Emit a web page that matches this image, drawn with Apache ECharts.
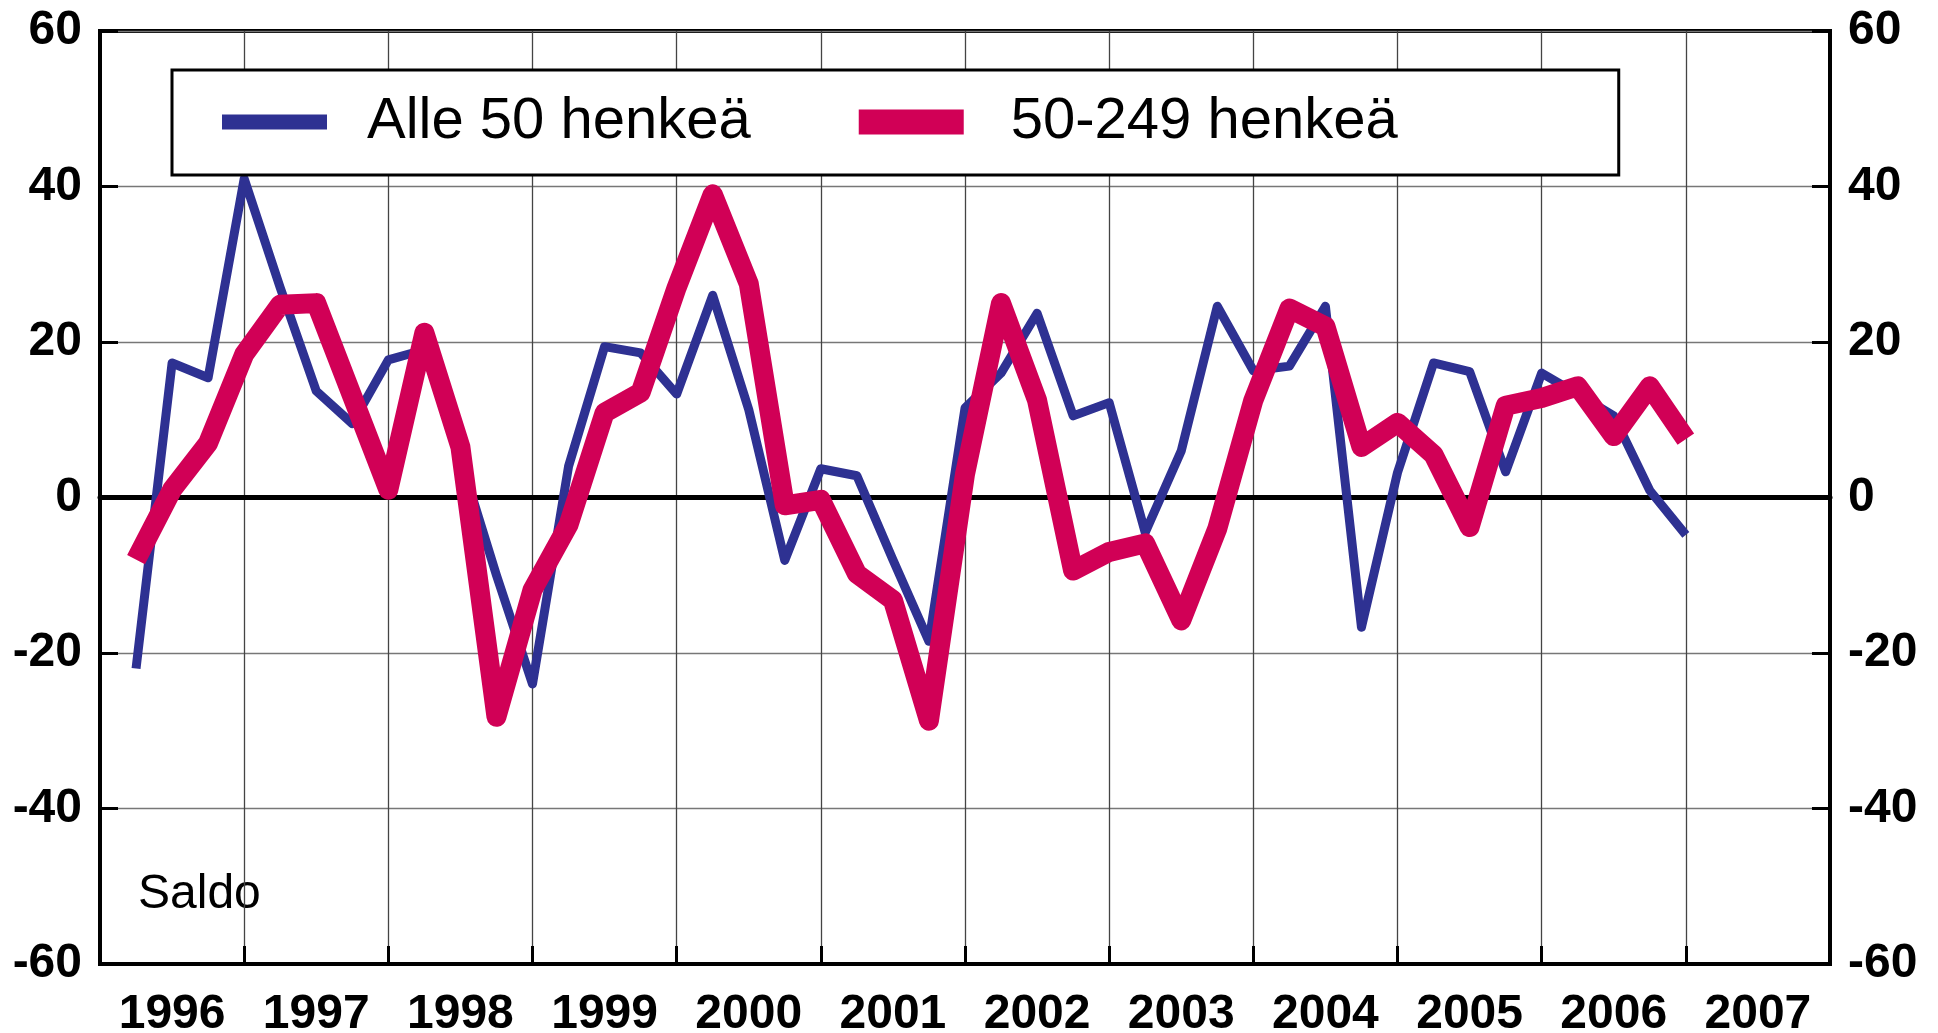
<!DOCTYPE html>
<html>
<head>
<meta charset="utf-8">
<title>Saldo</title>
<style>html,body{margin:0;padding:0;background:#fff}</style>
</head>
<body>
<div id="main" style="width:1938px;height:1033px;"></div>
<script src="https://cdn.jsdelivr.net/npm/echarts@6/dist/echarts.min.js"></script>
<script>
// vuodet x-akselilla, arvot neljännesvuosittain 1996 Q1 - 2006 Q4
var years = ['1996', '1997', '1998', '1999', '2000', '2001', '2002', '2003', '2004', '2005', '2006', '2007'];
var yTicks = [-60, -40, -20, 0, 20, 40, 60];

var alle50 = [-22, 17.3, 15.4, 41, 27, 13.7, 9.5, 17.7, 19, 5, -10, -24,
    4, 19.4, 18.6, 13.3, 26, 11.3, -8.1, 3.7, 2.8, -8, -18.5, 11.5,
    16, 23.7, 10.5, 12.2, -4.5, 6, 24.6, 16.3, 16.9, 24.6, -16.7, 3.2,
    17.3, 16.2, 3.3, 16, 13.3, 10.5, 0.9, -4.8];
var keski = [-8, 1, 7, 18.4, 24.8, 25, 13, 1, 21.2, 6.5, -28.2, -11.9,
    -3.5, 10.9, 13.5, 27, 39, 27.5, -1, -0.3, -9.8, -13.2, -28.7, 3,
    25, 12.5, -9.4, -7, -5.9, -15.8, -4, 12.5, 24.3, 22, 6.5, 9.6,
    5.5, -3.8, 11.8, 12.8, 14.3, 7.9, 14.3, 7.5];

var font = 'Liberation Sans, Arial, sans-serif';
var qMax = years.length * 4;

// neljännes i piirretään neljänneksen loppuun
function pts(vals) {
    return vals.map(function (v, i) { return [i + 1, v]; });
}

var chart = echarts.init(document.getElementById('main'));

var option = {
    animation: false,
    backgroundColor: '#fff',
    grid: {
        left: 100, right: 108, top: 31, bottom: 69, containLabel: false, outerBoundsMode: 'none',
        show: true, borderColor: '#000', borderWidth: 4
    },
    legend: {
        left: 172, top: 70,
        backgroundColor: '#fff', borderColor: '#000', borderWidth: 3,
        padding: [22, 221, 23, 50],
        itemWidth: 105, itemHeight: 30, itemGap: 108,
        textStyle: { fontSize: 58, color: '#000', fontFamily: font, lineHeight: 60, padding: [0, 0, 0, 35] },
        data: [
            { name: 'Alle 50 henkeä', icon: 'path://M0,0H105V15H0Z' },
            { name: '50-249 henkeä', icon: 'path://M0,0H105V25H0Z',
              textStyle: { fontSize: 58, color: '#000', fontFamily: font, lineHeight: 60, padding: [0, 0, 0, 42] } }
        ]
    },
    graphic: [{
        type: 'text', left: 138, top: 871,
        style: { text: 'Saldo', font: '48px Liberation Sans, Arial, sans-serif', fill: '#000' }
    }],
    xAxis: [
        {
            type: 'value', min: 0, max: qMax, interval: 4, position: 'bottom',
            axisLine: { onZero: false, lineStyle: { color: '#000', width: 4 } },
            axisTick: { inside: true, length: 18, lineStyle: { color: '#000', width: 3 } },
            axisLabel: { show: false },
            splitLine: { show: true, lineStyle: { color: '#444', width: 1.3 } }
        },
        {
            type: 'category', data: years, position: 'bottom', boundaryGap: true,
            axisLine: { show: false, onZero: false }, axisTick: { show: false }, splitLine: { show: false },
            axisLabel: { margin: 27, fontSize: 48, fontWeight: 'bold', color: '#000', fontFamily: font }
        },
        {
            // nollaviiva
            type: 'value', min: 0, max: qMax, position: 'bottom',
            axisLine: { onZero: true, onZeroAxisIndex: 0, lineStyle: { color: '#000', width: 5 } },
            axisTick: { show: false }, axisLabel: { show: false }, splitLine: { show: false }
        }
    ],
    yAxis: [
        {
            type: 'value', position: 'left', min: yTicks[0], max: yTicks[yTicks.length - 1], interval: yTicks[1] - yTicks[0],
            axisLine: { onZero: false, lineStyle: { color: '#000', width: 4 } },
            axisTick: { inside: true, length: 18, lineStyle: { color: '#000', width: 3 } },
            axisLabel: { margin: 18, fontSize: 48, fontWeight: 'bold', color: '#000', fontFamily: font },
            splitLine: { show: true, lineStyle: { color: '#777', width: 1.3 } }
        },
        {
            type: 'value', position: 'right', min: yTicks[0], max: yTicks[yTicks.length - 1], interval: yTicks[1] - yTicks[0],
            axisLine: { onZero: false, lineStyle: { color: '#000', width: 4 } },
            axisTick: { inside: true, length: 18, lineStyle: { color: '#000', width: 3 } },
            axisLabel: { margin: 18, fontSize: 48, fontWeight: 'bold', color: '#000', fontFamily: font },
            splitLine: { show: false }
        }
    ],
    series: [
        {
            name: 'Alle 50 henkeä', type: 'line', xAxisIndex: 0, yAxisIndex: 0,
            data: pts(alle50), symbol: 'none', z: 3,
            itemStyle: { color: '#2E3192' },
            lineStyle: { color: '#2E3192', width: 9, join: 'round', cap: 'butt' }
        },
        {
            name: '50-249 henkeä', type: 'line', xAxisIndex: 0, yAxisIndex: 0,
            data: pts(keski), symbol: 'none', z: 4,
            itemStyle: { color: '#D10056' },
            lineStyle: { color: '#D10056', width: 20, join: 'round', cap: 'butt' }
        }
    ]
};

chart.setOption(option);
</script>
</body>
</html>
